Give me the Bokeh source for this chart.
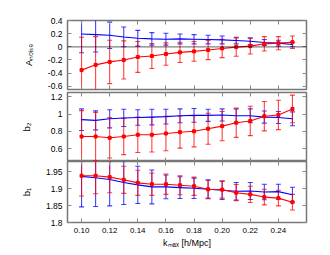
from bokeh.plotting import figure
from bokeh.layouts import column
from bokeh.models import (ColumnDataSource, Whisker, TeeHead, Span,
                          FixedTicker, LinearAxis, Range1d)
from bokeh.embed import file_html
from bokeh.resources import INLINE

# ---------------- data ----------------
k = [0.10, 0.11, 0.12, 0.13, 0.14, 0.15, 0.16, 0.17, 0.18, 0.19, 0.20, 0.21, 0.22, 0.23, 0.24, 0.25]

A_blue = [0.195, 0.185, 0.175, 0.15, 0.13, 0.12, 0.115, 0.12, 0.115, 0.11, 0.105, 0.095, 0.085, 0.065, 0.055, 0.035]
A_blue_err = [0.285, 0.265, 0.2, 0.15, 0.12, 0.095, 0.09, 0.075, 0.07, 0.065, 0.06, 0.05, 0.05, 0.045, 0.045, 0.035]
A_red = [-0.355, -0.275, -0.23, -0.2, -0.155, -0.14, -0.11, -0.085, -0.07, -0.05, -0.025, -0.005, 0.01, 0.045, 0.055, 0.07]
A_red_err = [0.5, 0.43, 0.33, 0.29, 0.235, 0.19, 0.17, 0.155, 0.15, 0.145, 0.14, 0.14, 0.12, 0.11, 0.1, 0.095]

b2_blue = [0.935, 0.927, 0.945, 0.955, 0.96, 0.965, 0.97, 0.98, 0.985, 0.985, 0.99, 0.98, 0.98, 0.965, 0.96, 0.945]
b2_blue_err = [0.125, 0.11, 0.105, 0.1, 0.09, 0.09, 0.085, 0.08, 0.08, 0.07, 0.07, 0.08, 0.08, 0.07, 0.07, 0.08]
b2_red = [0.74, 0.74, 0.725, 0.74, 0.76, 0.76, 0.775, 0.79, 0.8, 0.83, 0.86, 0.9, 0.92, 0.975, 0.99, 1.06]
b2_red_err = [0.3, 0.28, 0.235, 0.21, 0.205, 0.2, 0.2, 0.185, 0.18, 0.18, 0.17, 0.17, 0.17, 0.17, 0.17, 0.16]

b1_blue = [1.936, 1.932, 1.927, 1.918, 1.911, 1.905, 1.905, 1.903, 1.901, 1.898, 1.895, 1.892, 1.893, 1.89, 1.891, 1.882]
b1_blue_err = [0.09, 0.085, 0.078, 0.065, 0.055, 0.05, 0.035, 0.032, 0.03, 0.028, 0.027, 0.026, 0.025, 0.023, 0.022, 0.022]
b1_red = [1.938, 1.938, 1.934, 1.926, 1.917, 1.913, 1.913, 1.91, 1.907, 1.898, 1.897, 1.888, 1.883, 1.875, 1.872, 1.86]
b1_red_err = [0.06, 0.053, 0.046, 0.04, 0.037, 0.033, 0.03, 0.028, 0.027, 0.026, 0.025, 0.024, 0.024, 0.023, 0.023, 0.023]

x_ticks = [0.10, 0.12, 0.14, 0.16, 0.18, 0.20, 0.22, 0.24]
x_tick_labels = ["0.10", "0.12", "0.14", "0.16", "0.18", "0.20", "0.22", "0.24"]
A_ticks = [-0.6, -0.4, -0.2, 0.0, 0.2, 0.4]
A_tick_labels = ["-0.6", "-0.4", "-0.2", "0", "0.2", "0.4"]
b2_ticks = [0.6, 0.8, 1.0, 1.2]
b2_tick_labels = ["0.6", "0.8", "1", "1.2"]
b1_ticks = [1.8, 1.85, 1.9, 1.95]
b1_tick_labels = ["1.8", "1.85", "1.9", "1.95"]

FONT = "Liberation Sans"
RED = "#ff0000"
BLUE = "#0000ff"
TICK = "#888888"


def style_axis(ax, ticks, labels, show_labels):
    ax.ticker = FixedTicker(ticks=ticks)
    ax.major_tick_in = 4
    ax.major_tick_out = 0
    ax.minor_tick_in = 0
    ax.minor_tick_out = 0
    ax.major_tick_line_color = TICK
    ax.major_tick_line_width = 1
    ax.axis_line_color = None
    ax.major_label_text_font = FONT
    if show_labels:
        ax.major_label_overrides = {t: l for t, l in zip(ticks, labels)}
        ax.major_label_text_color = "#000000"
        ax.major_label_text_font_size = "8.5px"
        ax.major_label_standoff = 5
    else:
        ax.major_label_text_color = None
        ax.major_label_text_font_size = "0px"
        ax.major_label_standoff = 0
    ax.axis_label_text_font = FONT
    ax.axis_label_text_font_style = "normal"
    ax.axis_label_text_font_size = "9.5px"
    ax.axis_label_text_color = "#000000"


def make_panel(ylo, yhi, yticks, ylabels, ylab, lab_standoff, frame_h, top_b, bottom_b, show_x):
    p = figure(frame_width=239, frame_height=frame_h,
               x_range=Range1d(0.09, 0.26), y_range=Range1d(ylo, yhi),
               output_backend="svg", toolbar_location=None,
               min_border_left=67, min_border_right=8,
               min_border_top=top_b, min_border_bottom=bottom_b)
    p.xgrid.visible = False
    p.ygrid.visible = False
    p.outline_line_color = "#777777"
    p.outline_line_width = 1.5
    p.background_fill_color = "white"
    p.border_fill_color = "white"
    style_axis(p.below[0], x_ticks, x_tick_labels, show_x)
    style_axis(p.left[0], yticks, ylabels, True)
    p.left[0].axis_label = ylab
    p.left[0].axis_label_standoff = lab_standoff
    ax_top = LinearAxis()
    style_axis(ax_top, x_ticks, x_tick_labels, False)
    p.add_layout(ax_top, "above")
    ax_right = LinearAxis()
    style_axis(ax_right, yticks, ylabels, False)
    p.add_layout(ax_right, "right")
    return p


def add_series(p, y, err, color, markers):
    lo = [a - e for a, e in zip(y, err)]
    hi = [a + e for a, e in zip(y, err)]
    src = ColumnDataSource(dict(x=k, y=y, lo=lo, hi=hi))
    w = Whisker(source=src, base="x", upper="hi", lower="lo",
                line_color=color, line_alpha=0.75, line_width=1.1,
                upper_head=TeeHead(size=5, line_color=color, line_alpha=0.75, line_width=1.1),
                lower_head=TeeHead(size=5, line_color=color, line_alpha=0.75, line_width=1.1))
    p.add_layout(w)
    p.line("x", "y", source=src, line_color=color, line_width=1.1)
    if markers:
        p.scatter("x", "y", source=src, marker="square", size=3,
                  fill_color=color, line_color=color, line_width=1)


# Panel 1: A_noise
p1 = make_panel(-0.65, 0.4, A_ticks, A_tick_labels, "Aₙₒᵢₛₑ", 11, 69, 20, 2, False)
p1.add_layout(Span(location=0, dimension="width", line_color="black",
                   line_dash="1 1", line_width=1.2))
add_series(p1, A_blue, A_blue_err, BLUE, False)
add_series(p1, A_red, A_red_err, RED, True)

# Panel 2: b2
p2 = make_panel(0.45, 1.25, b2_ticks, b2_tick_labels, "b₂", 16, 69, 1, 0, False)
add_series(p2, b2_blue, b2_blue_err, BLUE, False)
add_series(p2, b2_red, b2_red_err, RED, True)

# Panel 3: b1
p3 = make_panel(1.8, 1.98, b1_ticks, b1_tick_labels, "b₁", 11, 61, 0, 27, True)
xb = p3.below[0]
xb.axis_label = "kₘₐₓ [h/Mpc]"
xb.axis_label_standoff = 2
xb.major_label_standoff = 5
xb.major_label_text_font_size = "8px"
xb.axis_label_text_font_size = "9px"
add_series(p3, b1_blue, b1_blue_err, BLUE, False)
add_series(p3, b1_red, b1_red_err, RED, True)

layout = column(p1, p2, p3, spacing=0)
open("out.html", "w").write(file_html(layout, INLINE))
